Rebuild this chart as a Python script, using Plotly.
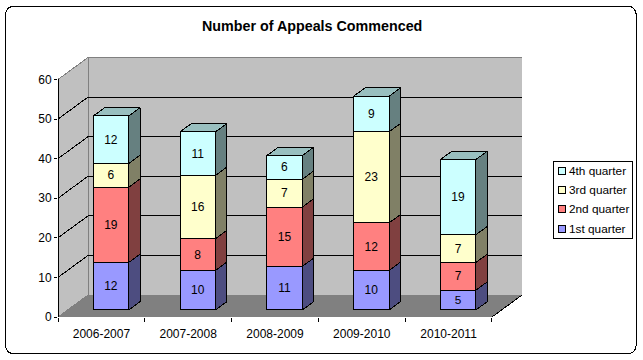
import plotly.graph_objects as go

categories = ["2006-2007", "2007-2008", "2008-2009", "2009-2010", "2010-2011"]
series_names = ["1st quarter", "2nd quarter", "3rd quarter", "4th quarter"]
q1 = [12, 10, 11, 10, 5]
q2 = [19, 8, 15, 12, 7]
q3 = [6, 16, 7, 23, 7]
q4 = [12, 11, 6, 9, 19]
series = [q1, q2, q3, q4]
y_ticks = [0, 10, 20, 30, 40, 50, 60]

front = ["#9999FF", "#FF8080", "#FFFFCC", "#CCFFFF"]
side = ["#4D4D80", "#804040", "#808066", "#668080"]
top = ["#7373BF", "#BF6060", "#BFBF99", "#99BFBF"]

W, H = 643, 360
L, R, T, B = 58.0, 521.7, 56.5, 317.0      # plot box in pixels
cat_px = 86.74
val_px = 238.0 / 60
DX = 30.0 / cat_px       # depth of the box, x units
DY = 22.0 / val_px       # depth of the box, value units
Z1, Z2 = 0.32, 0.70      # bar depth span
BAR_W = 0.408

x_range = [-0.5, -0.5 + (R - L) / cat_px]
y_range = [0, (B - T) / val_px]


def P(x, y, z=0.0):
    return x + z * DX, y + z * DY


def path(points):
    return "M" + "L".join(f"{x},{y}" for x, y in points) + "Z"


def px(x):
    return (x - L) / (R - L)


def py(y):
    return (B - y) / (B - T)


x0, x1 = -0.5, 4.5
y_max = y_ticks[-1]
shapes = []
# walls and floor
shapes.append(dict(type="path", layer="below", line=dict(color="#808080", width=1), fillcolor="#C0C0C0",
                   path=path([P(x0, 0, 1), P(x1, 0, 1), P(x1, y_max, 1), P(x0, y_max, 1)])))
shapes.append(dict(type="path", layer="below", line=dict(color="#808080", width=1), fillcolor="#C0C0C0",
                   path=path([P(x0, 0), P(x0, 0, 1), P(x0, y_max, 1), P(x0, y_max)])))
shapes.append(dict(type="path", layer="below", line=dict(color="#808080", width=1), fillcolor="#808080",
                   path=path([P(x0, 0), P(x1, 0), P(x1, 0, 1), P(x0, 0, 1)])))
# gridlines
for v in y_ticks[1:-1]:
    a, b, c = P(x0, v), P(x0, v, 1), P(x1, v, 1)
    shapes.append(dict(type="path", layer="below", line=dict(color="black", width=1),
                       path=f"M{a[0]},{a[1]}L{b[0]},{b[1]}L{c[0]},{c[1]}"))
# front axes
shapes.append(dict(type="line", layer="below", x0=x0, x1=x0, y0=0, y1=y_max, line=dict(color="black", width=1)))
shapes.append(dict(type="line", layer="below", x0=x0, x1=x1, y0=0, y1=0, line=dict(color="black", width=1)))
a, b = P(x1, 0), P(x1, 0, 1)
shapes.append(dict(type="line", layer="below", x0=a[0], x1=b[0], y0=a[1], y1=b[1], line=dict(color="black", width=1)))

# rounded chart border
bl, br, bt, bb, r = 5.5, 636, 5.5, 354, 10
shapes.append(dict(type="path", xref="paper", yref="paper", layer="below", line=dict(color="black", width=1),
                   path=(f"M{px(bl)},{py(bt + r)}Q{px(bl)},{py(bt)} {px(bl + r)},{py(bt)}"
                         f"L{px(br - r)},{py(bt)}Q{px(br)},{py(bt)} {px(br)},{py(bt + r)}"
                         f"L{px(br)},{py(bb - r)}Q{px(br)},{py(bb)} {px(br - r)},{py(bb)}"
                         f"L{px(bl + r)},{py(bb)}Q{px(bl)},{py(bb)} {px(bl)},{py(bb - r)}Z")))

fig = go.Figure()

# front faces: bars
cum = [0] * len(categories)
dx1, dy1 = P(0, 0, Z1)
dx2, dy2 = P(0, 0, Z2)
for s, vals in enumerate(series):
    fig.add_bar(
        x=[i + dx1 for i in range(len(categories))],
        y=vals,
        base=[c + dy1 for c in cum],
        width=BAR_W,
        name=series_names[s],
        marker=dict(color=front[s], line=dict(color="black", width=1)),
        text=[str(v) for v in vals],
        textposition="inside",
        insidetextanchor="middle",
        textangle=0,
        textfont=dict(family="Liberation Sans", size=12, color="black"),
        showlegend=False,
        hoverinfo="skip",
        cliponaxis=False,
    )
    # side faces
    for i, v in enumerate(vals):
        xr = i + BAR_W / 2
        pts = [P(xr, cum[i], Z1), P(xr, cum[i], Z2), P(xr, cum[i] + v, Z2), P(xr, cum[i] + v, Z1), P(xr, cum[i], Z1)]
        fig.add_scatter(x=[p[0] for p in pts], y=[p[1] for p in pts], mode="lines", fill="toself",
                        fillcolor=side[s], line=dict(color="black", width=1),
                        showlegend=False, hoverinfo="skip", cliponaxis=False)
    cum = [c + v for c, v in zip(cum, vals)]

# top faces
for i, total in enumerate(cum):
    xl, xr = i - BAR_W / 2, i + BAR_W / 2
    pts = [P(xl, total, Z1), P(xr, total, Z1), P(xr, total, Z2), P(xl, total, Z2), P(xl, total, Z1)]
    fig.add_scatter(x=[p[0] for p in pts], y=[p[1] for p in pts], mode="lines", fill="toself",
                    fillcolor=top[3], line=dict(color="black", width=1),
                    showlegend=False, hoverinfo="skip", cliponaxis=False)

# legend, newest series on top
lx0, lx1, ly0, ly1 = 553.0, 632.5, 161.0, 238.5
shapes.append(dict(type="rect", xref="paper", yref="paper", x0=px(lx0), x1=px(lx1), y0=py(ly0), y1=py(ly1),
                   fillcolor="white", line=dict(color="black", width=1), layer="below"))
annotations = []
for k, s in enumerate(reversed(range(len(series_names)))):
    cy = 170.5 + k * 19.3
    shapes.append(dict(type="rect", xref="paper", yref="paper", x0=px(558), x1=px(565), y0=py(cy - 3.5), y1=py(cy + 3.5),
                       fillcolor=front[s], line=dict(color="black", width=1)))
    annotations.append(dict(xref="paper", yref="paper", x=px(566.5), y=py(cy), text=series_names[s], showarrow=False,
                            xanchor="left", yanchor="middle", align="left",
                            font=dict(family="Liberation Sans", size=11.8, color="black")))

fig.update_layout(
    width=W, height=H, autosize=False,
    margin=dict(l=L, r=W - R, t=T, b=H - B, pad=0),
    paper_bgcolor="white", plot_bgcolor="rgba(0,0,0,0)",
    barmode="overlay", showlegend=False, shapes=shapes, annotations=annotations,
    title=dict(text="<b>Number of Appeals Commenced</b>", x=px(312), xanchor="center", xref="paper",
               y=1 - 26 / H, yanchor="middle", font=dict(family="Liberation Sans", size=14.3, color="black")),
    xaxis=dict(range=x_range, tickvals=list(range(len(categories))), ticktext=categories, ticks="",
               showgrid=False, zeroline=False, showline=False, ticklabelstandoff=8,
               tickfont=dict(family="Liberation Sans", size=12, color="black"),
               minor=dict(tickvals=[i - 0.5 for i in range(len(categories) + 1)], ticks="outside", ticklen=4,
                          tickwidth=1, tickcolor="black", showgrid=False)),
    yaxis=dict(range=y_range, tickvals=y_ticks, ticks="outside", ticklen=3, tickwidth=1, tickcolor="black",
               showgrid=False, zeroline=False, showline=False,
               tickfont=dict(family="Liberation Sans", size=12, color="black")),
)

crisp = ("document.body.style.margin='0';document.body.style.overflow='hidden';"
         "document.querySelectorAll('.main-svg path').forEach(function(p){p.style.shapeRendering='crispEdges';});")
fig.write_html("out.html", config=dict(displayModeBar=False), post_script=crisp)
